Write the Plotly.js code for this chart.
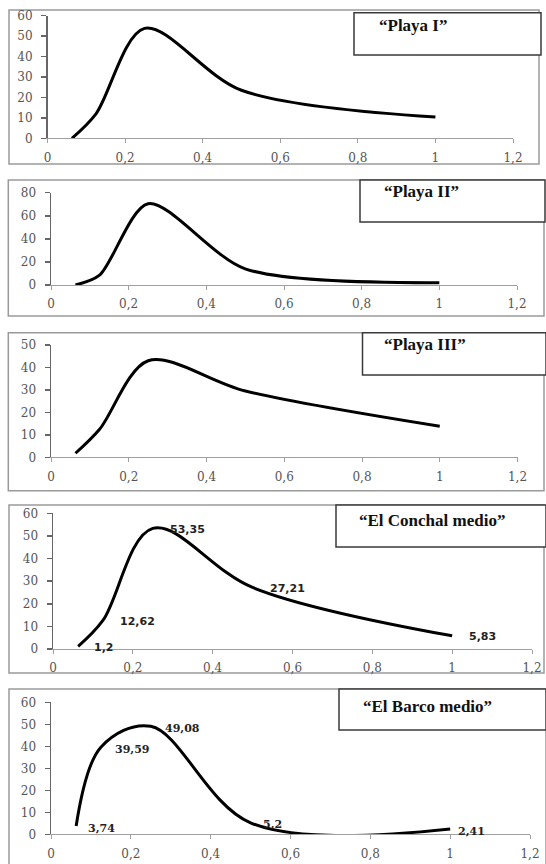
<!DOCTYPE html>
<html>
<head>
<meta charset="utf-8">
<script src="https://cdn.plot.ly/plotly-3.0.1.min.js"></script>
<style>html,body{margin:0;padding:0;background:#fff;}#chart{width:546px;height:864px;}</style>
</head>
<body>
<div id="chart"></div>
<script>
// ---- data ----
const xSieve = [0.063, 0.125, 0.25, 0.5, 1];
const playaI = [0, 12, 53.8, 23.5, 10.4];
const playaII = [0, 8.5, 70.5, 14, 2];
const playaIII = [1.8, 12.5, 43, 29.5, 13.8];
const conchalMedio = [1.2, 12.62, 53.35, 27.21, 5.83];
const barcoMedio = [3.74, 39.59, 49.08, 5.2, 2.41];
const conchalLabels = ['1,2', '12,62', '53,35', '27,21', '5,83'];
const barcoLabels = ['3,74', '39,59', '49,08', '5,2', '2,41'];
const panelTitles = ['“Playa I”', '“Playa II”', '“Playa III”', '“El Conchal medio”', '“El Barco medio”'];
const yMax = [60, 80, 50, 60, 60];
const yStep = [10, 20, 10, 10, 10];
const xMax = 1.2;
const xStep = 0.2;

const series = [playaI, playaII, playaIII, conchalMedio, barcoMedio];
const smooth = [0.9, 0.8, 0.9, 1, 1];

// ---- geometry (pixels) ----
const W = 546, H = 864;
const px = x => x / W;
const py = y => 1 - y / H;
const geom = [
  {ax: [47.5, 513], ay: [15.7, 138.3], box: [9, 10, 539, 164], leg: [354, 12.7, 541, 55], tx: 377, ty: 25},
  {ax: [51, 517], ay: [192.7, 285], box: [8.3, 180, 544, 316], leg: [360, 180, 545, 222], tx: 382, ty: 191},
  {ax: [51, 517.5], ay: [345, 457.3], box: [8.3, 332.7, 544, 490.7], leg: [362.5, 332.7, 546, 375], tx: 382, ty: 344},
  {ax: [53, 532], ay: [513.3, 649], box: [9, 505, 544, 673], leg: [336, 505, 546, 547], tx: 357, ty: 520},
  {ax: [51, 530], ay: [702.3, 834.3], box: [9, 689, 546, 866], leg: [339, 689, 546, 730], tx: 361, ty: 706}
];

const tickFont = {family: 'DejaVu Serif', size: 12, color: '#555'};
const traces = [];
const layout = {
  width: W, height: H,
  margin: {l: 0, r: 0, t: 0, b: 0},
  paper_bgcolor: '#fff', plot_bgcolor: 'rgba(0,0,0,0)',
  showlegend: false,
  separators: ', ',
  shapes: [], annotations: []
};

series.forEach((ys, i) => {
  const n = i === 0 ? '' : String(i + 1);
  const g = geom[i];
  traces.push({
    x: xSieve, y: ys, type: 'scatter', mode: 'lines',
    line: {color: '#000', width: 3, shape: 'spline', smoothing: smooth[i]},
    xaxis: 'x' + n, yaxis: 'y' + n, hoverinfo: 'skip'
  });
  layout['xaxis' + n] = {
    domain: [px(g.ax[0]), px(g.ax[1])], anchor: 'y' + n,
    range: [0, xMax], tick0: 0, dtick: xStep,
    showline: true, linecolor: '#a0a0a0', linewidth: 1,
    ticks: 'outside', ticklen: 4, tickcolor: '#a0a0a0', tickwidth: 1,
    showgrid: false, zeroline: false, tickfont: tickFont, ticklabelstandoff: 4,
    fixedrange: true
  };
  layout['yaxis' + n] = {
    domain: [py(g.ay[1]), py(g.ay[0])], anchor: 'x' + n,
    range: [0, yMax[i]], tick0: 0, dtick: yStep[i],
    showline: true, linecolor: '#666', linewidth: 1.5,
    ticks: 'outside', ticklen: 5, tickcolor: '#666', tickwidth: 1.5,
    showgrid: false, zeroline: false, tickfont: tickFont, ticklabelstandoff: 6,
    fixedrange: true
  };
  // outer frame
  layout.shapes.push({type: 'rect', xref: 'paper', yref: 'paper', layer: 'below',
    x0: px(g.box[0]), x1: px(g.box[2]), y0: py(g.box[3]), y1: py(g.box[1]),
    line: {color: '#9a9a9a', width: 1.5}, fillcolor: 'rgba(0,0,0,0)'});
  // title box
  layout.shapes.push({type: 'rect', xref: 'paper', yref: 'paper', layer: 'above',
    x0: px(g.leg[0]), x1: px(g.leg[2]), y0: py(g.leg[3]), y1: py(g.leg[1]),
    line: {color: '#3a3a3a', width: 1.5}, fillcolor: '#fff'});
  layout.annotations.push({xref: 'paper', yref: 'paper', x: px(g.tx), y: py(g.ty),
    xanchor: 'left', yanchor: 'middle', showarrow: false,
    text: '<b>' + panelTitles[i] + '</b>',
    font: {family: 'Liberation Serif', size: 17, color: '#111'}});
});

// data labels
const conchalShift = [14, 15, 15, 15, 15];
const barcoShift = [10, 12, 12, 10, 6];
xSieve.forEach((xv, k) => {
  layout.annotations.push({xref: 'x4', yref: 'y4', x: xv, y: conchalMedio[k],
    text: '<b>' + conchalLabels[k] + '</b>', showarrow: false,
    xanchor: 'left', yanchor: 'middle', xshift: conchalShift[k], yshift: -1,
    font: {family: 'DejaVu Sans', size: 11, color: '#222'}});
  layout.annotations.push({xref: 'x5', yref: 'y5', x: xv, y: barcoMedio[k],
    text: '<b>' + barcoLabels[k] + '</b>', showarrow: false,
    xanchor: 'left', yanchor: 'middle', xshift: barcoShift[k], yshift: -2,
    font: {family: 'DejaVu Serif', size: 11, color: '#222'}});
});

Plotly.newPlot('chart', traces, layout, {staticPlot: true, displayModeBar: false});
</script>
</body>
</html>
